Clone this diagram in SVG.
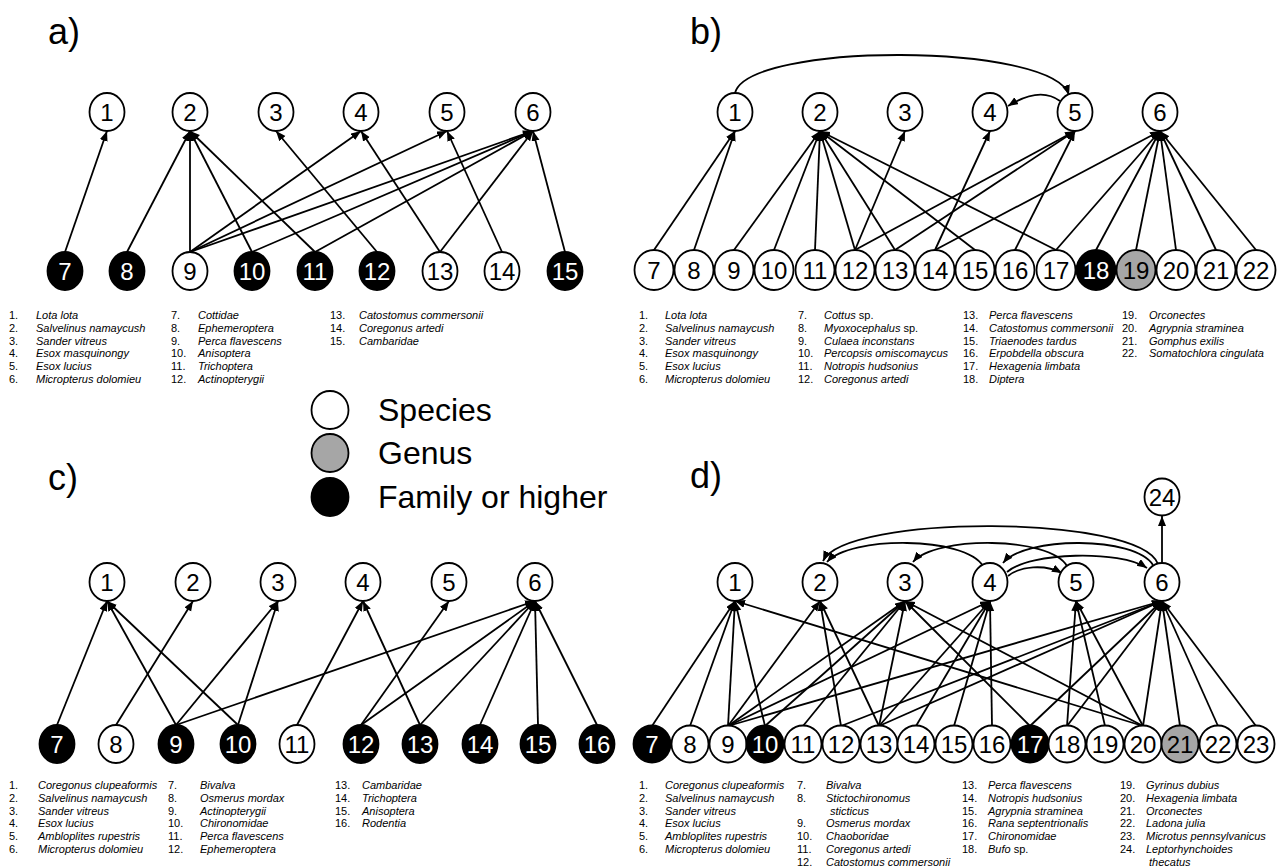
<svg xmlns="http://www.w3.org/2000/svg" width="1277" height="867" viewBox="0 0 1277 867">
<style>
text{font-family:"Liberation Sans",Arial,sans-serif}
.nd ellipse{fill:#fff;stroke:#000;stroke-width:1.8}
.nd text{font-size:24px;text-anchor:middle;fill:#000}
.nd.k ellipse{fill:#000}
.nd.k text{fill:#fff}
.nd.g ellipse{fill:#a6a6a6}
.cn line,.cn path{stroke:#000;stroke-width:1.8;fill:none;marker-end:url(#ah)}
.lab{font-size:36px}
.lg{font-size:11px}
.i{font-style:italic}
.key{font-size:32px}
.ks{stroke:#000;stroke-width:1.8}
</style>
<defs>
<marker id="ah" markerUnits="userSpaceOnUse" markerWidth="11" markerHeight="9" refX="10" refY="4" orient="auto"><path d="M0,0 L10,4 L0,8 z" fill="#000"/></marker>
</defs>
<rect width="1277" height="867" fill="#fff"/>

<!-- panel labels -->
<text class="lab" x="48" y="44">a)</text>
<text class="lab" x="690" y="44">b)</text>
<text class="lab" x="48" y="490">c)</text>
<text class="lab" x="690" y="488">d)</text>

<!-- key -->
<g id="key">
<ellipse class="ks" cx="330" cy="410" rx="18.5" ry="19" fill="#fff"/>
<text class="key" x="378" y="421">Species</text>
<ellipse class="ks" cx="330" cy="453" rx="18.5" ry="19" fill="#a6a6a6"/>
<text class="key" x="378" y="464">Genus</text>
<ellipse class="ks" cx="330" cy="497" rx="18.5" ry="19" fill="#000"/>
<text class="key" x="378" y="508">Family or higher</text>
</g>

<!-- ============ PANEL A ============ -->
<g id="a-edges" class="cn">
<line x1="65" y1="252" x2="107" y2="131"/>
<line x1="127" y1="252" x2="190" y2="131"/>
<line x1="190" y1="252" x2="190" y2="131"/>
<line x1="252" y1="252" x2="190" y2="131"/>
<line x1="315" y1="252" x2="190" y2="131"/>
<line x1="377" y1="252" x2="276" y2="131"/>
<line x1="190" y1="252" x2="361" y2="131"/>
<line x1="440" y1="252" x2="361" y2="131"/>
<line x1="190" y1="252" x2="447" y2="131"/>
<line x1="502" y1="252" x2="447" y2="131"/>
<line x1="190" y1="252" x2="533" y2="131"/>
<line x1="252" y1="252" x2="533" y2="131"/>
<line x1="315" y1="252" x2="533" y2="131"/>
<line x1="440" y1="252" x2="533" y2="131"/>
<line x1="565" y1="252" x2="533" y2="131"/>
</g>
<g id="a-n1" class="nd"><ellipse cx="107" cy="112" rx="17.5" ry="19"/><text x="107" y="120.5">1</text></g>
<g id="a-n2" class="nd"><ellipse cx="190" cy="112" rx="17.5" ry="19"/><text x="190" y="120.5">2</text></g>
<g id="a-n3" class="nd"><ellipse cx="276" cy="112" rx="17.5" ry="19"/><text x="276" y="120.5">3</text></g>
<g id="a-n4" class="nd"><ellipse cx="361" cy="112" rx="17.5" ry="19"/><text x="361" y="120.5">4</text></g>
<g id="a-n5" class="nd"><ellipse cx="447" cy="112" rx="17.5" ry="19"/><text x="447" y="120.5">5</text></g>
<g id="a-n6" class="nd"><ellipse cx="533" cy="112" rx="17.5" ry="19"/><text x="533" y="120.5">6</text></g>
<g id="a-n7" class="nd k"><ellipse cx="65" cy="271" rx="17.5" ry="19"/><text x="65" y="279.5">7</text></g>
<g id="a-n8" class="nd k"><ellipse cx="127" cy="271" rx="17.5" ry="19"/><text x="127" y="279.5">8</text></g>
<g id="a-n9" class="nd"><ellipse cx="190" cy="271" rx="17.5" ry="19"/><text x="190" y="279.5">9</text></g>
<g id="a-n10" class="nd k"><ellipse cx="252" cy="271" rx="17.5" ry="19"/><text x="252" y="279.5">10</text></g>
<g id="a-n11" class="nd k"><ellipse cx="315" cy="271" rx="17.5" ry="19"/><text x="315" y="279.5">11</text></g>
<g id="a-n12" class="nd k"><ellipse cx="377" cy="271" rx="17.5" ry="19"/><text x="377" y="279.5">12</text></g>
<g id="a-n13" class="nd"><ellipse cx="440" cy="271" rx="17.5" ry="19"/><text x="440" y="279.5">13</text></g>
<g id="a-n14" class="nd"><ellipse cx="502" cy="271" rx="17.5" ry="19"/><text x="502" y="279.5">14</text></g>
<g id="a-n15" class="nd k"><ellipse cx="565" cy="271" rx="17.5" ry="19"/><text x="565" y="279.5">15</text></g>
<g id="a-legend" class="lg">
<text x="9" y="319">1.<tspan x="36" class="i">Lota lota</tspan></text>
<text x="9" y="332">2.<tspan x="36" class="i">Salvelinus namaycush</tspan></text>
<text x="9" y="345">3.<tspan x="36" class="i">Sander vitreus</tspan></text>
<text x="9" y="357">4.<tspan x="36" class="i">Esox masquinongy</tspan></text>
<text x="9" y="370">5.<tspan x="36" class="i">Esox lucius</tspan></text>
<text x="9" y="383">6.<tspan x="36" class="i">Micropterus dolomieu</tspan></text>
<text x="171" y="319">7.<tspan x="198" class="i">Cottidae</tspan></text>
<text x="171" y="332">8.<tspan x="198" class="i">Ephemeroptera</tspan></text>
<text x="171" y="345">9.<tspan x="198" class="i">Perca flavescens</tspan></text>
<text x="171" y="357">10.<tspan x="198" class="i">Anisoptera</tspan></text>
<text x="171" y="370">11.<tspan x="198" class="i">Trichoptera</tspan></text>
<text x="171" y="383">12.<tspan x="198" class="i">Actinopterygii</tspan></text>
<text x="330" y="319">13.<tspan x="359" class="i">Catostomus commersonii</tspan></text>
<text x="330" y="332">14.<tspan x="359" class="i">Coregonus artedi</tspan></text>
<text x="330" y="345">15.<tspan x="359" class="i">Cambaridae</tspan></text>
</g>

<!-- ============ PANEL B ============ -->
<g id="b-edges" class="cn">
<path d="M735,93 C748,42 1052,42 1069,95"/>
<path d="M1060,101 Q1040,86 1008,106"/>
<line x1="654" y1="250" x2="735" y2="131"/>
<line x1="694" y1="250" x2="735" y2="131"/>
<line x1="734" y1="250" x2="820" y2="131"/>
<line x1="774" y1="250" x2="820" y2="131"/>
<line x1="815" y1="250" x2="820" y2="131"/>
<line x1="855" y1="250" x2="820" y2="131"/>
<line x1="895" y1="250" x2="820" y2="131"/>
<line x1="975" y1="250" x2="820" y2="131"/>
<line x1="1056" y1="250" x2="820" y2="131"/>
<line x1="855" y1="250" x2="905" y2="131"/>
<line x1="935" y1="250" x2="990" y2="131"/>
<line x1="855" y1="250" x2="1075" y2="131"/>
<line x1="895" y1="250" x2="1075" y2="131"/>
<line x1="1015" y1="250" x2="1075" y2="131"/>
<line x1="935" y1="250" x2="1160" y2="131"/>
<line x1="1056" y1="250" x2="1160" y2="131"/>
<line x1="1096" y1="250" x2="1160" y2="131"/>
<line x1="1136" y1="250" x2="1160" y2="131"/>
<line x1="1176" y1="250" x2="1160" y2="131"/>
<line x1="1216" y1="250" x2="1160" y2="131"/>
<line x1="1256" y1="250" x2="1160" y2="131"/>
</g>
<g id="b-n1" class="nd"><ellipse cx="735" cy="112" rx="17.5" ry="19"/><text x="735" y="120.5">1</text></g>
<g id="b-n2" class="nd"><ellipse cx="820" cy="112" rx="17.5" ry="19"/><text x="820" y="120.5">2</text></g>
<g id="b-n3" class="nd"><ellipse cx="905" cy="112" rx="17.5" ry="19"/><text x="905" y="120.5">3</text></g>
<g id="b-n4" class="nd"><ellipse cx="990" cy="112" rx="17.5" ry="19"/><text x="990" y="120.5">4</text></g>
<g id="b-n5" class="nd"><ellipse cx="1075" cy="112" rx="17.5" ry="19"/><text x="1075" y="120.5">5</text></g>
<g id="b-n6" class="nd"><ellipse cx="1160" cy="112" rx="17.5" ry="19"/><text x="1160" y="120.5">6</text></g>
<g id="b-n7" class="nd"><ellipse cx="654" cy="270" rx="19.5" ry="20"/><text x="654" y="278.5">7</text></g>
<g id="b-n8" class="nd"><ellipse cx="694" cy="270" rx="19.5" ry="20"/><text x="694" y="278.5">8</text></g>
<g id="b-n9" class="nd"><ellipse cx="734" cy="270" rx="19.5" ry="20"/><text x="734" y="278.5">9</text></g>
<g id="b-n10" class="nd"><ellipse cx="774" cy="270" rx="19.5" ry="20"/><text x="774" y="278.5">10</text></g>
<g id="b-n11" class="nd"><ellipse cx="815" cy="270" rx="19.5" ry="20"/><text x="815" y="278.5">11</text></g>
<g id="b-n12" class="nd"><ellipse cx="855" cy="270" rx="19.5" ry="20"/><text x="855" y="278.5">12</text></g>
<g id="b-n13" class="nd"><ellipse cx="895" cy="270" rx="19.5" ry="20"/><text x="895" y="278.5">13</text></g>
<g id="b-n14" class="nd"><ellipse cx="935" cy="270" rx="19.5" ry="20"/><text x="935" y="278.5">14</text></g>
<g id="b-n15" class="nd"><ellipse cx="975" cy="270" rx="19.5" ry="20"/><text x="975" y="278.5">15</text></g>
<g id="b-n16" class="nd"><ellipse cx="1015" cy="270" rx="19.5" ry="20"/><text x="1015" y="278.5">16</text></g>
<g id="b-n17" class="nd"><ellipse cx="1056" cy="270" rx="19.5" ry="20"/><text x="1056" y="278.5">17</text></g>
<g id="b-n18" class="nd k"><ellipse cx="1096" cy="270" rx="19.5" ry="20"/><text x="1096" y="278.5">18</text></g>
<g id="b-n19" class="nd g"><ellipse cx="1136" cy="270" rx="19.5" ry="20"/><text x="1136" y="278.5">19</text></g>
<g id="b-n20" class="nd"><ellipse cx="1176" cy="270" rx="19.5" ry="20"/><text x="1176" y="278.5">20</text></g>
<g id="b-n21" class="nd"><ellipse cx="1216" cy="270" rx="19.5" ry="20"/><text x="1216" y="278.5">21</text></g>
<g id="b-n22" class="nd"><ellipse cx="1256" cy="270" rx="19.5" ry="20"/><text x="1256" y="278.5">22</text></g>
<g id="b-legend" class="lg">
<text x="639" y="319">1.<tspan x="665" class="i">Lota lota</tspan></text>
<text x="639" y="332">2.<tspan x="665" class="i">Salvelinus namaycush</tspan></text>
<text x="639" y="345">3.<tspan x="665" class="i">Sander vitreus</tspan></text>
<text x="639" y="357">4.<tspan x="665" class="i">Esox masquinongy</tspan></text>
<text x="639" y="370">5.<tspan x="665" class="i">Esox lucius</tspan></text>
<text x="639" y="383">6.<tspan x="665" class="i">Micropterus dolomieu</tspan></text>
<text x="798" y="319">7.<tspan x="824" class="i">Cottus</tspan> sp.</text>
<text x="798" y="332">8.<tspan x="824" class="i">Myoxocephalus</tspan> sp.</text>
<text x="798" y="345">9.<tspan x="824" class="i">Culaea inconstans</tspan></text>
<text x="798" y="357">10.<tspan x="824" class="i">Percopsis omiscomaycus</tspan></text>
<text x="798" y="370">11.<tspan x="824" class="i">Notropis hudsonius</tspan></text>
<text x="798" y="383">12.<tspan x="824" class="i">Coregonus artedi</tspan></text>
<text x="963" y="319">13.<tspan x="989" class="i">Perca flavescens</tspan></text>
<text x="963" y="332">14.<tspan x="989" class="i">Catostomus commersonii</tspan></text>
<text x="963" y="345">15.<tspan x="989" class="i">Triaenodes tardus</tspan></text>
<text x="963" y="357">16.<tspan x="989" class="i">Erpobdella obscura</tspan></text>
<text x="963" y="370">17.<tspan x="989" class="i">Hexagenia limbata</tspan></text>
<text x="963" y="383">18.<tspan x="989" class="i">Diptera</tspan></text>
<text x="1122" y="319">19.<tspan x="1149" class="i">Orconectes</tspan></text>
<text x="1122" y="332">20.<tspan x="1149" class="i">Agrypnia straminea</tspan></text>
<text x="1122" y="345">21.<tspan x="1149" class="i">Gomphus exilis</tspan></text>
<text x="1122" y="357">22.<tspan x="1149" class="i">Somatochlora cingulata</tspan></text>
</g>

<!-- ============ PANEL C ============ -->
<g id="c-edges" class="cn">
<line x1="57" y1="725" x2="107" y2="601"/>
<line x1="176" y1="725" x2="107" y2="601"/>
<line x1="238" y1="725" x2="107" y2="601"/>
<line x1="116" y1="725" x2="193" y2="601"/>
<line x1="176" y1="725" x2="278" y2="601"/>
<line x1="238" y1="725" x2="278" y2="601"/>
<line x1="297" y1="725" x2="363" y2="601"/>
<line x1="420" y1="725" x2="363" y2="601"/>
<line x1="361" y1="725" x2="449" y2="601"/>
<line x1="176" y1="725" x2="535" y2="601"/>
<line x1="361" y1="725" x2="535" y2="601"/>
<line x1="420" y1="725" x2="535" y2="601"/>
<line x1="480" y1="725" x2="535" y2="601"/>
<line x1="538" y1="725" x2="535" y2="601"/>
<line x1="597" y1="725" x2="535" y2="601"/>
</g>
<g id="c-n1" class="nd"><ellipse cx="107" cy="582" rx="17.5" ry="19"/><text x="107" y="590.5">1</text></g>
<g id="c-n2" class="nd"><ellipse cx="193" cy="582" rx="17.5" ry="19"/><text x="193" y="590.5">2</text></g>
<g id="c-n3" class="nd"><ellipse cx="278" cy="582" rx="17.5" ry="19"/><text x="278" y="590.5">3</text></g>
<g id="c-n4" class="nd"><ellipse cx="363" cy="582" rx="17.5" ry="19"/><text x="363" y="590.5">4</text></g>
<g id="c-n5" class="nd"><ellipse cx="449" cy="582" rx="17.5" ry="19"/><text x="449" y="590.5">5</text></g>
<g id="c-n6" class="nd"><ellipse cx="535" cy="582" rx="17.5" ry="19"/><text x="535" y="590.5">6</text></g>
<g id="c-n7" class="nd k"><ellipse cx="57" cy="744" rx="17.5" ry="19"/><text x="57" y="752.5">7</text></g>
<g id="c-n8" class="nd"><ellipse cx="116" cy="744" rx="17.5" ry="19"/><text x="116" y="752.5">8</text></g>
<g id="c-n9" class="nd k"><ellipse cx="176" cy="744" rx="17.5" ry="19"/><text x="176" y="752.5">9</text></g>
<g id="c-n10" class="nd k"><ellipse cx="238" cy="744" rx="17.5" ry="19"/><text x="238" y="752.5">10</text></g>
<g id="c-n11" class="nd"><ellipse cx="297" cy="744" rx="17.5" ry="19"/><text x="297" y="752.5">11</text></g>
<g id="c-n12" class="nd k"><ellipse cx="361" cy="744" rx="17.5" ry="19"/><text x="361" y="752.5">12</text></g>
<g id="c-n13" class="nd k"><ellipse cx="420" cy="744" rx="17.5" ry="19"/><text x="420" y="752.5">13</text></g>
<g id="c-n14" class="nd k"><ellipse cx="480" cy="744" rx="17.5" ry="19"/><text x="480" y="752.5">14</text></g>
<g id="c-n15" class="nd k"><ellipse cx="538" cy="744" rx="17.5" ry="19"/><text x="538" y="752.5">15</text></g>
<g id="c-n16" class="nd k"><ellipse cx="597" cy="744" rx="17.5" ry="19"/><text x="597" y="752.5">16</text></g>
<g id="c-legend" class="lg">
<text x="9" y="789">1.<tspan x="38" class="i">Coregonus clupeaformis</tspan></text>
<text x="9" y="802">2.<tspan x="38" class="i">Salvelinus namaycush</tspan></text>
<text x="9" y="815">3.<tspan x="38" class="i">Sander vitreus</tspan></text>
<text x="9" y="827">4.<tspan x="38" class="i">Esox lucius</tspan></text>
<text x="9" y="840">5.<tspan x="38" class="i">Ambloplites rupestris</tspan></text>
<text x="9" y="853">6.<tspan x="38" class="i">Micropterus dolomieu</tspan></text>
<text x="168" y="789">7.<tspan x="200" class="i">Bivalva</tspan></text>
<text x="168" y="802">8.<tspan x="200" class="i">Osmerus mordax</tspan></text>
<text x="168" y="815">9.<tspan x="200" class="i">Actinopterygii</tspan></text>
<text x="168" y="827">10.<tspan x="200" class="i">Chironomidae</tspan></text>
<text x="168" y="840">11.<tspan x="200" class="i">Perca flavescens</tspan></text>
<text x="168" y="853">12.<tspan x="200" class="i">Ephemeroptera</tspan></text>
<text x="335" y="789">13.<tspan x="362" class="i">Cambaridae</tspan></text>
<text x="335" y="802">14.<tspan x="362" class="i">Trichoptera</tspan></text>
<text x="335" y="815">15.<tspan x="362" class="i">Anisoptera</tspan></text>
<text x="335" y="827">16.<tspan x="362" class="i">Rodentia</tspan></text>
</g>

<!-- ============ PANEL D ============ -->
<g id="d-edges" class="cn">
<path d="M1158,564 C1140,514 845,514 823,561"/>
<path d="M1153,565 C1135,536 1025,536 1003,563"/>
<path d="M983,566 C965,536 850,536 827,562"/>
<path d="M1067,566 C1050,536 935,536 913,562"/>
<path d="M1007,572 C1030,552 1120,550 1147,568"/>
<path d="M1008,576 C1020,566 1045,564 1062,573"/>
<line x1="1162" y1="563" x2="1162" y2="516"/>
<line x1="652" y1="726" x2="735" y2="601"/>
<line x1="690" y1="726" x2="735" y2="601"/>
<line x1="728" y1="726" x2="735" y2="601"/>
<line x1="765" y1="726" x2="735" y2="601"/>
<line x1="1143" y1="726" x2="735" y2="601"/>
<line x1="728" y1="726" x2="820" y2="601"/>
<line x1="841" y1="726" x2="820" y2="601"/>
<line x1="879" y1="726" x2="820" y2="601"/>
<line x1="728" y1="726" x2="905" y2="601"/>
<line x1="765" y1="726" x2="905" y2="601"/>
<line x1="803" y1="726" x2="905" y2="601"/>
<line x1="879" y1="726" x2="905" y2="601"/>
<line x1="1030" y1="726" x2="905" y2="601"/>
<line x1="1143" y1="726" x2="905" y2="601"/>
<line x1="728" y1="726" x2="990" y2="601"/>
<line x1="879" y1="726" x2="990" y2="601"/>
<line x1="916" y1="726" x2="990" y2="601"/>
<line x1="954" y1="726" x2="990" y2="601"/>
<line x1="992" y1="726" x2="990" y2="601"/>
<line x1="1067" y1="726" x2="1076" y2="601"/>
<line x1="1105" y1="726" x2="1076" y2="601"/>
<line x1="1143" y1="726" x2="1076" y2="601"/>
<line x1="728" y1="726" x2="1162" y2="601"/>
<line x1="841" y1="726" x2="1162" y2="601"/>
<line x1="879" y1="726" x2="1162" y2="601"/>
<line x1="1030" y1="726" x2="1162" y2="601"/>
<line x1="1067" y1="726" x2="1162" y2="601"/>
<line x1="1143" y1="726" x2="1162" y2="601"/>
<line x1="1180" y1="726" x2="1162" y2="601"/>
<line x1="1218" y1="726" x2="1162" y2="601"/>
<line x1="1256" y1="726" x2="1162" y2="601"/>
</g>
<g id="d-n24" class="nd"><ellipse cx="1162" cy="497" rx="17.5" ry="18.5"/><text x="1162" y="505.5">24</text></g>
<g id="d-n1" class="nd"><ellipse cx="735" cy="582" rx="17.5" ry="19"/><text x="735" y="590.5">1</text></g>
<g id="d-n2" class="nd"><ellipse cx="820" cy="582" rx="17.5" ry="19"/><text x="820" y="590.5">2</text></g>
<g id="d-n3" class="nd"><ellipse cx="905" cy="582" rx="17.5" ry="19"/><text x="905" y="590.5">3</text></g>
<g id="d-n4" class="nd"><ellipse cx="990" cy="582" rx="17.5" ry="19"/><text x="990" y="590.5">4</text></g>
<g id="d-n5" class="nd"><ellipse cx="1076" cy="582" rx="17.5" ry="19"/><text x="1076" y="590.5">5</text></g>
<g id="d-n6" class="nd"><ellipse cx="1162" cy="582" rx="17.5" ry="19"/><text x="1162" y="590.5">6</text></g>
<g id="d-n7" class="nd k"><ellipse cx="652" cy="744" rx="18.5" ry="18.5"/><text x="652" y="752.5">7</text></g>
<g id="d-n8" class="nd"><ellipse cx="690" cy="744" rx="18.5" ry="18.5"/><text x="690" y="752.5">8</text></g>
<g id="d-n9" class="nd"><ellipse cx="728" cy="744" rx="18.5" ry="18.5"/><text x="728" y="752.5">9</text></g>
<g id="d-n10" class="nd k"><ellipse cx="765" cy="744" rx="18.5" ry="18.5"/><text x="765" y="752.5">10</text></g>
<g id="d-n11" class="nd"><ellipse cx="803" cy="744" rx="18.5" ry="18.5"/><text x="803" y="752.5">11</text></g>
<g id="d-n12" class="nd"><ellipse cx="841" cy="744" rx="18.5" ry="18.5"/><text x="841" y="752.5">12</text></g>
<g id="d-n13" class="nd"><ellipse cx="879" cy="744" rx="18.5" ry="18.5"/><text x="879" y="752.5">13</text></g>
<g id="d-n14" class="nd"><ellipse cx="916" cy="744" rx="18.5" ry="18.5"/><text x="916" y="752.5">14</text></g>
<g id="d-n15" class="nd"><ellipse cx="954" cy="744" rx="18.5" ry="18.5"/><text x="954" y="752.5">15</text></g>
<g id="d-n16" class="nd"><ellipse cx="992" cy="744" rx="18.5" ry="18.5"/><text x="992" y="752.5">16</text></g>
<g id="d-n17" class="nd k"><ellipse cx="1030" cy="744" rx="18.5" ry="18.5"/><text x="1030" y="752.5">17</text></g>
<g id="d-n18" class="nd"><ellipse cx="1067" cy="744" rx="18.5" ry="18.5"/><text x="1067" y="752.5">18</text></g>
<g id="d-n19" class="nd"><ellipse cx="1105" cy="744" rx="18.5" ry="18.5"/><text x="1105" y="752.5">19</text></g>
<g id="d-n20" class="nd"><ellipse cx="1143" cy="744" rx="18.5" ry="18.5"/><text x="1143" y="752.5">20</text></g>
<g id="d-n21" class="nd g"><ellipse cx="1180" cy="744" rx="18.5" ry="18.5"/><text x="1180" y="752.5">21</text></g>
<g id="d-n22" class="nd"><ellipse cx="1218" cy="744" rx="18.5" ry="18.5"/><text x="1218" y="752.5">22</text></g>
<g id="d-n23" class="nd"><ellipse cx="1256" cy="744" rx="18.5" ry="18.5"/><text x="1256" y="752.5">23</text></g>
<g id="d-legend" class="lg">
<text x="639" y="789">1.<tspan x="665" class="i">Coregonus clupeaformis</tspan></text>
<text x="639" y="802">2.<tspan x="665" class="i">Salvelinus namaycush</tspan></text>
<text x="639" y="815">3.<tspan x="665" class="i">Sander vitreus</tspan></text>
<text x="639" y="827">4.<tspan x="665" class="i">Esox lucius</tspan></text>
<text x="639" y="840">5.<tspan x="665" class="i">Ambloplites rupestris</tspan></text>
<text x="639" y="853">6.<tspan x="665" class="i">Micropterus dolomieu</tspan></text>
<text x="797" y="789">7.<tspan x="826" class="i">Bivalva</tspan></text>
<text x="797" y="802">8.<tspan x="826" class="i">Stictochironomus</tspan></text>
<text x="830" y="815" class="i">sticticus</text>
<text x="797" y="827">9.<tspan x="826" class="i">Osmerus mordax</tspan></text>
<text x="797" y="840">10.<tspan x="826" class="i">Chaoboridae</tspan></text>
<text x="797" y="853">11.<tspan x="826" class="i">Coregonus artedi</tspan></text>
<text x="797" y="866">12.<tspan x="826" class="i">Catostomus commersonii</tspan></text>
<text x="962" y="789">13.<tspan x="988" class="i">Perca flavescens</tspan></text>
<text x="962" y="802">14.<tspan x="988" class="i">Notropis hudsonius</tspan></text>
<text x="962" y="815">15.<tspan x="988" class="i">Agrypnia straminea</tspan></text>
<text x="962" y="827">16.<tspan x="988" class="i">Rana septentrionalis</tspan></text>
<text x="962" y="840">17.<tspan x="988" class="i">Chironomidae</tspan></text>
<text x="962" y="853">18.<tspan x="988" class="i">Bufo</tspan> sp.</text>
<text x="1120" y="789">19.<tspan x="1146" class="i">Gyrinus dubius</tspan></text>
<text x="1120" y="802">20.<tspan x="1146" class="i">Hexagenia limbata</tspan></text>
<text x="1120" y="815">21.<tspan x="1146" class="i">Orconectes</tspan></text>
<text x="1120" y="827">22.<tspan x="1146" class="i">Ladona julia</tspan></text>
<text x="1120" y="840">23.<tspan x="1146" class="i">Microtus pennsylvanicus</tspan></text>
<text x="1120" y="853">24.<tspan x="1146" class="i">Leptorhynchoides</tspan></text>
<text x="1149" y="866" class="i">thecatus</text>
</g>
</svg>
